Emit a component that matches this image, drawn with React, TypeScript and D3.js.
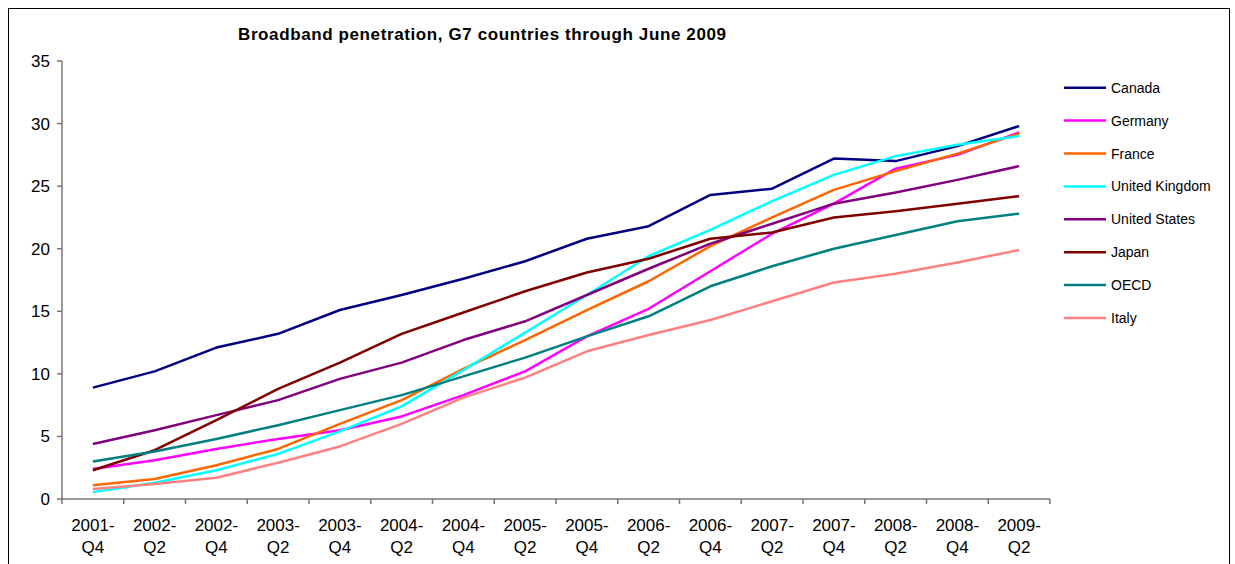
import React from "react";
import * as d3 from "d3";

const categories = ["2001-Q4","2002-Q2","2002-Q4","2003-Q2","2003-Q4","2004-Q2","2004-Q4","2005-Q2","2005-Q4","2006-Q2","2006-Q4","2007-Q2","2007-Q4","2008-Q2","2008-Q4","2009-Q2"];

const canada = [8.9,10.2,12.1,13.2,15.1,16.3,17.6,19.0,20.8,21.8,24.3,24.8,27.2,27.0,28.2,29.8];
const germany = [2.4,3.1,4.0,4.8,5.5,6.6,8.3,10.2,13.0,15.2,18.2,21.2,23.6,26.4,27.5,29.3];
const france = [1.1,1.6,2.7,4.0,6.0,7.9,10.4,12.7,15.1,17.4,20.2,22.5,24.7,26.2,27.6,29.2];
const unitedKingdom = [0.55,1.3,2.3,3.6,5.4,7.4,10.3,13.3,16.3,19.4,21.5,23.8,25.9,27.4,28.3,29.0];
const unitedStates = [4.4,5.5,6.7,7.9,9.6,10.9,12.7,14.2,16.3,18.4,20.4,22.0,23.6,24.5,25.5,26.6];
const japan = [2.3,3.9,6.3,8.8,10.9,13.2,14.9,16.6,18.1,19.2,20.8,21.3,22.5,23.0,23.6,24.2];
const oecd = [3.0,3.8,4.8,5.9,7.1,8.3,9.8,11.3,13.0,14.6,17.0,18.6,20.0,21.1,22.2,22.8];
const italy = [0.8,1.2,1.7,2.9,4.2,6.0,8.1,9.7,11.8,13.1,14.3,15.8,17.3,18.0,18.9,19.9];

const seriesNames = ["Canada","Germany","France","United Kingdom","United States","Japan","OECD","Italy"];
const seriesValues = [canada, germany, france, unitedKingdom, unitedStates, japan, oecd, italy];
const seriesColors = ["#000080","#FF00FF","#FF6600","#00FFFF","#800080","#800000","#008080","#FF8080"];
const yTicks = [0,5,10,15,20,25,30,35];

const title = "Broadband penetration, G7 countries through June 2009";

export default function App() {
  const W = 1235, H = 564;
  const x = d3.scaleBand<string>().domain(categories).range([62, 1050]);
  const y = d3.scaleLinear().domain([0, 35]).range([499, 61]);
  const cx = (c: string) => (x(c) as number) + x.bandwidth() / 2;
  const line = d3.line<number>().x((_, i) => cx(categories[i])).y(d => y(d));
  const font = "Liberation Sans, Arial, sans-serif";
  const axisColor = "#777";
  const boundaries = categories.map(c => x(c) as number).concat([1050]);

  return (
    <svg width={W} height={H} style={{ position: "absolute", left: 0, top: 0 }} fontFamily={font}>
      <rect x={0} y={0} width={W} height={H} fill="#fff" />
      <rect x={8.5} y={8.5} width={1221} height={620} fill="none" stroke="#000" strokeWidth={1} />
      <text x={482} y={40} textAnchor="middle" fontSize={17} fontWeight="bold" textLength={488} lengthAdjust="spacing">{title}</text>

      {/* y axis */}
      <line x1={62} x2={62} y1={y(35)} y2={y(0)} stroke={axisColor} strokeWidth={1.5} />
      {yTicks.map(t => (
        <g key={t}>
          <line x1={57} x2={62} y1={y(t)} y2={y(t)} stroke={axisColor} strokeWidth={1.5} />
          <text x={50} y={y(t) + 6} textAnchor="end" fontSize={17}>{t}</text>
        </g>
      ))}

      {/* x axis */}
      <line x1={62} x2={1050} y1={y(0)} y2={y(0)} stroke={axisColor} strokeWidth={1.5} />
      {boundaries.map((b, i) => (
        <line key={i} x1={b} x2={b} y1={y(0)} y2={y(0) + 5} stroke={axisColor} strokeWidth={1.5} />
      ))}
      {categories.map(c => {
        const [yr, q] = c.split("-");
        return (
          <g key={c}>
            <text x={cx(c)} y={531} textAnchor="middle" fontSize={17}>{yr + "-"}</text>
            <text x={cx(c)} y={553} textAnchor="middle" fontSize={17}>{q}</text>
          </g>
        );
      })}

      {/* lines */}
      {seriesValues.map((vals, i) => (
        <path key={seriesNames[i]} d={line(vals) || ""} fill="none" stroke={seriesColors[i]} strokeWidth={2.5} strokeLinejoin="round" />
      ))}

      {/* legend */}
      {seriesNames.map((n, i) => {
        const ly = 87.7 + i * 32.9;
        return (
          <g key={n}>
            <line x1={1064} x2={1106} y1={ly} y2={ly} stroke={seriesColors[i]} strokeWidth={2.5} />
            <text x={1111} y={ly + 5} fontSize={14}>{n}</text>
          </g>
        );
      })}
    </svg>
  );
}
